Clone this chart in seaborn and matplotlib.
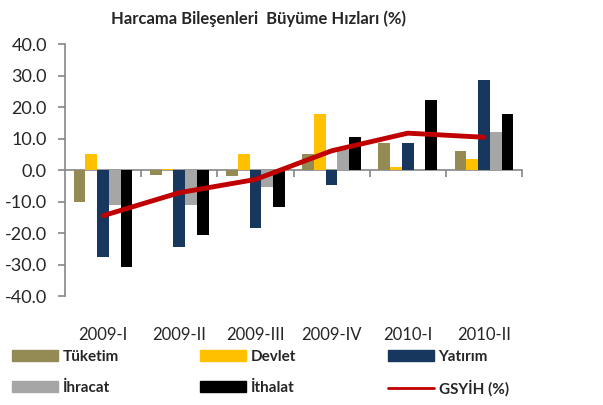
import pandas as pd
import matplotlib.pyplot as plt
import seaborn as sns
import numpy as np
from matplotlib.patches import Patch
from matplotlib.lines import Line2D

quarters = ['2009-I', '2009-II', '2009-III', '2009-IV', '2010-I', '2010-II']
tuketim = [-10.0, -1.7, -1.8, 5.1, 8.5, 6.1]
devlet = [5.1, 0.3, 5.1, 17.8, 0.9, 3.5]
yatirim = [-27.5, -24.3, -18.5, -4.8, 8.7, 28.6]
ihracat = [-11.2, -11.0, -5.5, 6.2, 0.0, 12.0]
ithalat = [-30.8, -20.5, -11.8, 10.6, 22.2, 17.8]
gsyih = [-14.5, -7.2, -3.0, 6.1, 11.7, 10.4]

series = ['Tüketim', 'Devlet', 'Yatırım', 'İhracat', 'İthalat']
colors = ['#948A54', '#FFC000', '#17375E', '#A6A6A6', '#000000']
line_color = '#C00000'
gray = '#868686'

df = pd.DataFrame({'Çeyrek': quarters, 'Tüketim': tuketim, 'Devlet': devlet,
                   'Yatırım': yatirim, 'İhracat': ihracat, 'İthalat': ithalat})
long = df.melt(id_vars='Çeyrek', var_name='Seri', value_name='Değer')

sns.set_style('white')
plt.rcParams['font.family'] = ['Lato', 'DejaVu Sans']

fig = plt.figure(figsize=(6.03, 4.05), dpi=100)
ax = fig.add_axes([0.1078, 0.2691, 0.758, 0.6222])

sns.barplot(data=long, x='Çeyrek', y='Değer', hue='Seri', hue_order=series,
            palette=colors, width=0.77, gap=0, saturation=1, linewidth=0,
            legend=False, ax=ax)
sns.lineplot(x=np.arange(len(quarters)), y=gsyih, color=line_color, linewidth=3.5,
             ax=ax, zorder=5)

ax.set_xlim(-0.5, len(quarters) - 0.5)
ax.set_ylim(-40, 40)
ax.set_yticks(np.arange(-40, 41, 10))
ax.set_yticklabels([f'{v:.1f}' for v in np.arange(-40, 41, 10)], fontsize=13)
ax.set_xticks(range(len(quarters)))
ax.set_xticklabels(quarters, fontsize=12)
ax.tick_params(axis='x', length=0, pad=22)
ax.tick_params(axis='y', direction='out', length=5, color=gray, width=1.2, pad=8, left=True)
ax.set_xlabel('')
ax.set_ylabel('')
for s in ['top', 'right', 'bottom']:
    ax.spines[s].set_visible(False)
ax.spines['left'].set_color(gray)
ax.spines['left'].set_linewidth(1.2)

# zero line with category boundary ticks
sec = ax.secondary_xaxis(0.5)
sec.set_alignment('bottom')
sec.set_xticks(np.arange(0.5, len(quarters), 1))
sec.set_xticklabels([])
sec.tick_params(direction='out', length=5, color=gray, width=1.2)
sec.spines['bottom'].set_color(gray)
sec.spines['bottom'].set_linewidth(1.2)

fig.text(0.428, 0.955, 'Harcama Bileşenleri  Büyüme Hızları (%)', ha='center', va='center',
         fontsize=12, fontweight='bold')

# legend: 3 columns x 2 rows, each entry placed on its own grid cell
handles = [Patch(color=c, label=s) for s, c in zip(series, colors)]
handles.append(Line2D([], [], color=line_color, linewidth=2, label='GSYİH (%)'))
for k, h in enumerate(handles):
    row, col = divmod(k, 3)
    fig.legend(handles=[h], loc='center left',
               bbox_to_anchor=((6 + 188 * col) / 603, 1 - (357 + 31 * row) / 405),
               frameon=False, prop={'weight': 'bold', 'size': 11}, handlelength=3.0,
               handleheight=0.75, handletextpad=0.3, borderaxespad=0)

fig.savefig('out.png', dpi=100)
